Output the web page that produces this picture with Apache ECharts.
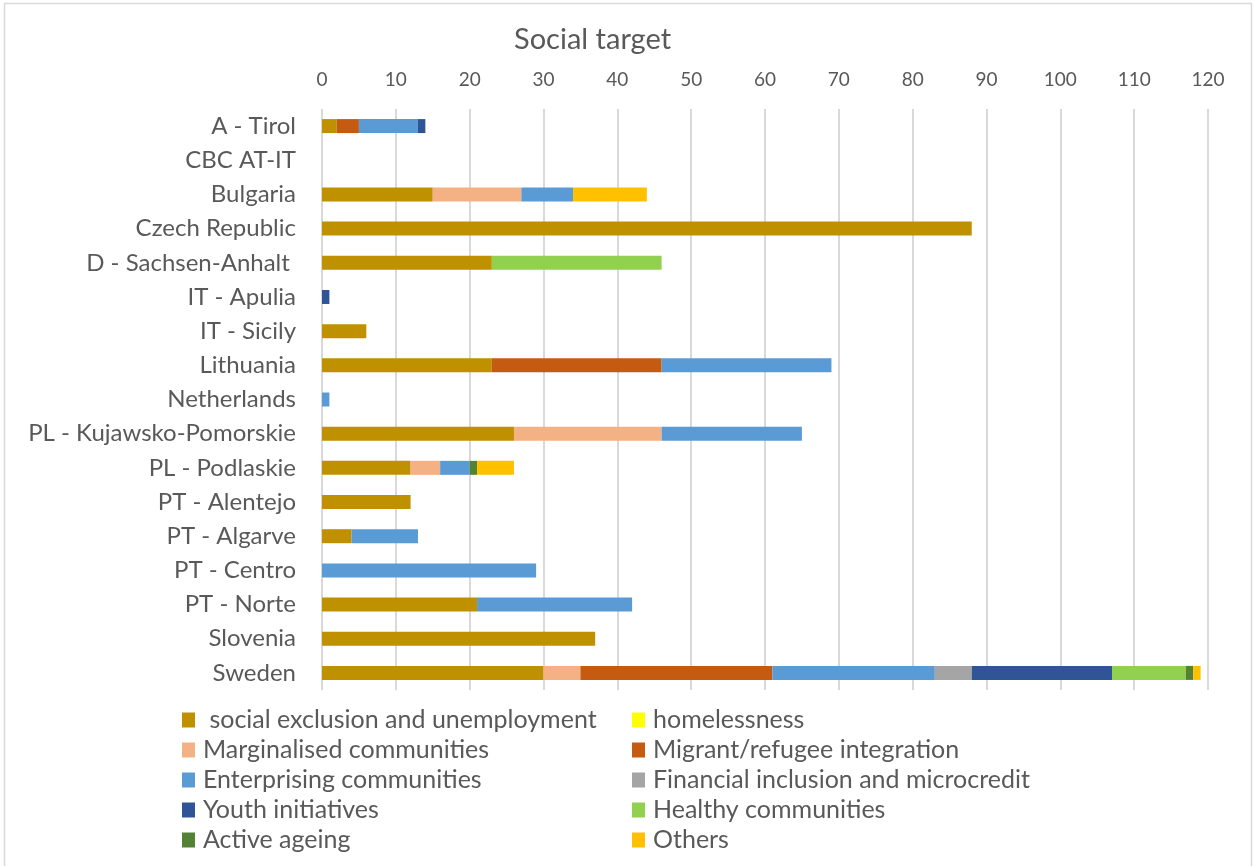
<!DOCTYPE html>
<html>
<head>
<meta charset="utf-8">
<script src="https://cdn.jsdelivr.net/npm/echarts@6/dist/echarts.min.js"></script>
<style>
  html, body { margin: 0; padding: 0; background: #fff; }
  #chart { width: 1254px; height: 866px; }
</style>
</head>
<body>
<div id="chart"></div>
<script>
// Regions / programmes (top to bottom)
const categories = [
  'A - Tirol', 'CBC AT-IT', 'Bulgaria', 'Czech Republic', 'D - Sachsen-Anhalt ',
  'IT - Apulia', 'IT - Sicily', 'Lithuania', 'Netherlands', 'PL - Kujawsko-Pomorskie',
  'PL - Podlaskie', 'PT - Alentejo', 'PT - Algarve', 'PT - Centro', 'PT - Norte',
  'Slovenia', 'Sweden'
];

// Number of projects per social target, one value per region
const socialExclusion = [2, 0, 15, 88, 23, 0, 6, 23, 0, 26, 12, 12, 4, 0, 21, 37, 30];
const homelessness    = [0, 0, 0, 0, 0, 0, 0, 0, 0, 0, 0, 0, 0, 0, 0, 0, 0];
const marginalised    = [0, 0, 12, 0, 0, 0, 0, 0, 0, 20, 4, 0, 0, 0, 0, 0, 5];
const migrant         = [3, 0, 0, 0, 0, 0, 0, 23, 0, 0, 0, 0, 0, 0, 0, 0, 26];
const enterprising    = [8, 0, 7, 0, 0, 0, 0, 23, 1, 19, 4, 0, 9, 29, 21, 0, 22];
const financial       = [0, 0, 0, 0, 0, 0, 0, 0, 0, 0, 0, 0, 0, 0, 0, 0, 5];
const youth           = [1, 0, 0, 0, 0, 1, 0, 0, 0, 0, 0, 0, 0, 0, 0, 0, 19];
const healthy         = [0, 0, 0, 0, 23, 0, 0, 0, 0, 0, 0, 0, 0, 0, 0, 0, 10];
const activeAgeing    = [0, 0, 0, 0, 0, 0, 0, 0, 0, 0, 1, 0, 0, 0, 0, 0, 1];
const others          = [0, 0, 10, 0, 0, 0, 0, 0, 0, 0, 5, 0, 0, 0, 0, 0, 1];

// Value axis ticks
const axisMin = 0, axisMax = 120, axisStep = 10;

const seriesDefs = [
  { name: ' social exclusion and unemployment', data: socialExclusion, color: '#BF9000' },
  { name: 'homelessness', data: homelessness, color: '#FFFF00' },
  { name: 'Marginalised communities', data: marginalised, color: '#F4B183' },
  { name: 'Migrant/refugee integration', data: migrant, color: '#C55A11' },
  { name: 'Enterprising communities', data: enterprising, color: '#5B9BD5' },
  { name: 'Financial inclusion and microcredit', data: financial, color: '#A5A5A5' },
  { name: 'Youth initiatives', data: youth, color: '#2F5597' },
  { name: 'Healthy communities', data: healthy, color: '#92D050' },
  { name: 'Active ageing', data: activeAgeing, color: '#548235' },
  { name: 'Others', data: others, color: '#FFC000' }
];

const FONT = 'Lato';
const TEXT = '#595959';

// Legend: two columns, filled row by row, one legend component per entry
const legendCols = [182, 632];
const legendRowTop = 707;
const legendRowStep = 30;
const legends = seriesDefs.map((s, i) => ({
  orient: 'horizontal',
  left: legendCols[i % 2],
  top: legendRowTop + Math.floor(i / 2) * legendRowStep,
  padding: 0,
  itemWidth: 13,
  itemHeight: 15,
  itemGap: 0,
  icon: 'rect',
  selectedMode: false,
  data: [s.name],
  textStyle: { fontFamily: FONT, fontSize: 25, color: TEXT, lineHeight: 26, padding: [0, 0, 0, 3] }
}));

const chart = echarts.init(document.getElementById('chart'), null, { renderer: 'canvas' });
chart.setOption({
  animation: false,
  backgroundColor: '#fff',
  title: {
    text: 'Social target',
    left: 509,
    top: 20,
    textStyle: { fontFamily: FONT, fontSize: 29, fontWeight: 'normal', color: TEXT }
  },
  legend: legends,
  graphic: [{
    type: 'rect',
    silent: true,
    shape: { x: 4.5, y: 3.5, width: 1247, height: 880 },
    style: { fill: 'none', stroke: '#d9d9d9', lineWidth: 1.5 }
  }],
  grid: { left: 322, right: 46, top: 109, height: 581, containLabel: false },
  xAxis: {
    type: 'value',
    position: 'top',
    min: axisMin,
    max: axisMax,
    interval: axisStep,
    axisLine: { show: false },
    axisTick: { show: false },
    axisLabel: { fontFamily: FONT, fontSize: 19, color: TEXT, margin: 20 },
    splitLine: { show: true, lineStyle: { color: '#d9d9d9', width: 2 } }
  },
  yAxis: {
    type: 'category',
    inverse: true,
    data: categories,
    axisLine: { show: false },
    axisTick: { show: false },
    axisLabel: { fontFamily: FONT, fontSize: 24, color: TEXT, margin: 26 }
  },
  series: seriesDefs.map(s => ({
    name: s.name,
    type: 'bar',
    stack: 'total',
    barWidth: 14,
    data: s.data,
    itemStyle: { color: s.color },
    emphasis: { disabled: true }
  }))
});
</script>
</body>
</html>
